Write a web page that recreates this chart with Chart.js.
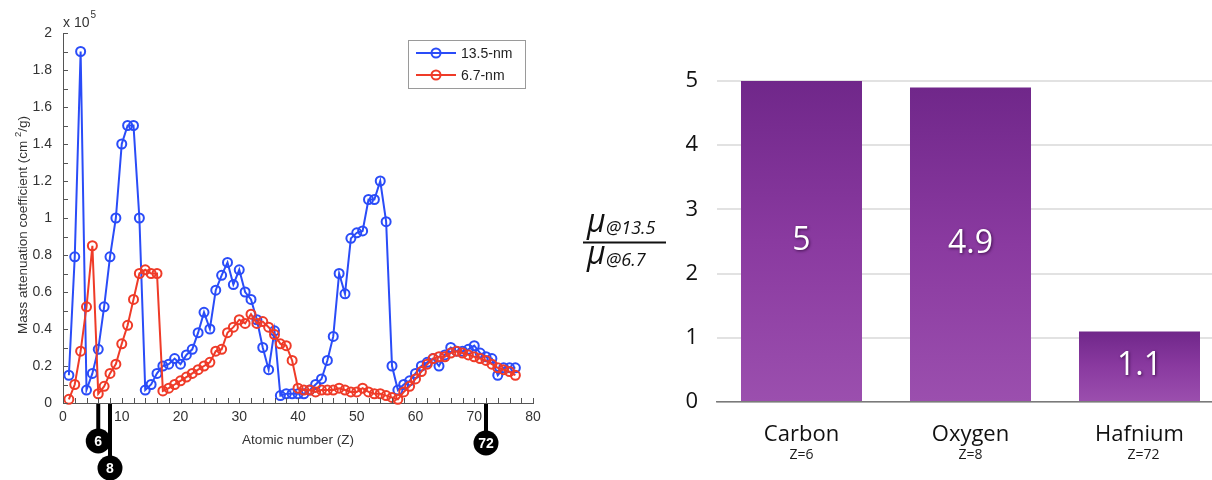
<!DOCTYPE html>
<html><head><meta charset="utf-8">
<script src="https://cdn.jsdelivr.net/npm/chart.js@4/dist/chart.umd.min.js"></script>
<style>
html,body{margin:0;padding:0;background:#fff;overflow:hidden;width:1212px;height:480px;}
#l{position:absolute;left:0;top:0;width:560px;height:480px;}
#r{position:absolute;left:560px;top:0;width:664px;height:480px;}
</style></head><body>
<div id="l"><canvas id="c1"></canvas></div>
<div id="r"><canvas id="c2"></canvas></div>
<script>
// ---------- data: left chart (values in units of 1e5 cm^2/g) ----------
const atomicNumbers = [1,2,3,4,5,6,7,8,9,10,11,12,13,14,15,16,17,18,19,20,21,22,23,24,25,26,27,28,29,30,31,32,33,34,35,36,37,38,39,40,41,42,43,44,45,46,47,48,49,50,51,52,53,54,55,56,57,58,59,60,61,62,63,64,65,66,67,68,69,70,71,72,73,74,75,76,77];
const mu135nm = [0.15,0.79,1.90,0.07,0.16,0.29,0.52,0.79,1.00,1.40,1.50,1.50,1.00,0.07,0.10,0.16,0.20,0.21,0.24,0.21,0.26,0.29,0.38,0.49,0.40,0.61,0.69,0.76,0.64,0.72,0.60,0.56,0.45,0.30,0.18,0.39,0.04,0.05,0.05,0.05,0.05,0.07,0.10,0.13,0.23,0.36,0.70,0.59,0.89,0.92,0.93,1.10,1.10,1.20,0.98,0.20,0.07,0.10,0.12,0.16,0.20,0.22,0.24,0.20,0.26,0.30,0.28,0.28,0.29,0.31,0.27,0.25,0.24,0.15,0.19,0.19,0.19];
const mu67nm = [0.02,0.10,0.28,0.52,0.85,0.05,0.09,0.16,0.21,0.32,0.42,0.56,0.70,0.72,0.70,0.70,0.065,0.08,0.10,0.12,0.14,0.16,0.18,0.20,0.22,0.28,0.29,0.38,0.41,0.45,0.43,0.48,0.43,0.44,0.41,0.37,0.32,0.31,0.23,0.08,0.07,0.07,0.06,0.07,0.07,0.07,0.08,0.07,0.06,0.06,0.08,0.06,0.05,0.05,0.04,0.03,0.02,0.06,0.09,0.13,0.17,0.21,0.24,0.25,0.25,0.27,0.28,0.27,0.26,0.25,0.24,0.23,0.21,0.19,0.18,0.17,0.15];
const seriesNames = ['13.5-nm','6.7-nm'];
const markedZ = [6, 8, 72];

// ---------- data: right chart ----------
const elements = ['Carbon','Oxygen','Hafnium'];
const elementZ = ['Z=6','Z=8','Z=72'];
const muRatio = [5, 4.9, 1.1];
const ratioLabels = ['5','4.9','1.1'];

const BLUE = '#2a4cf8';
const RED = '#ef3b28';
const SANS = '"Liberation Sans", Arial, Helvetica, sans-serif';
const MYR = '"Open Sans", "Noto Sans", sans-serif';

const leftDecor = {
  id:'leftDecor',
  afterDraw(chart){
    const {ctx, chartArea:a, scales:{x,y}} = chart;
    ctx.save();
    // inward tick marks
    ctx.strokeStyle = '#555'; ctx.lineWidth = 1;
    ctx.beginPath();
    for (let i = 0; i <= 20; i++) {
      const py = Math.round(y.getPixelForValue(i/10)) + 0.5;
      ctx.moveTo(a.left, py); ctx.lineTo(a.left + 5, py);
    }
    for (let i = 0; i <= 40; i++) {
      const px = Math.round(x.getPixelForValue(i*2)) + 0.5;
      ctx.moveTo(px, a.bottom); ctx.lineTo(px, a.bottom - 5);
    }
    ctx.stroke();
    // exponent
    ctx.fillStyle = '#333';
    ctx.font = '14px ' + SANS;
    ctx.textBaseline = 'alphabetic'; ctx.textAlign = 'left';
    ctx.fillText('x 10', a.left, 27);
    const w = ctx.measureText('x 10').width;
    ctx.font = '10px ' + SANS;
    ctx.fillText('5', a.left + w + 1, 18);
    // x title
    ctx.font = '13.5px ' + SANS;
    ctx.textAlign = 'center'; ctx.textBaseline = 'middle';
    ctx.fillText('Atomic number (Z)', (a.left + a.right)/2, 440);
    // y title (rotated)
    ctx.save();
    ctx.translate(22, 225);
    ctx.rotate(-Math.PI/2);
    const p1 = 'Mass attenuation coefficient (cm ', p2 = '2', p3 = '/g)';
    ctx.font = '13.5px ' + SANS;
    const w1 = ctx.measureText(p1).width, w3 = ctx.measureText(p3).width;
    ctx.font = '9.5px ' + SANS;
    const w2 = ctx.measureText(p2).width;
    let sx = -(w1 + w2 + w3)/2;
    ctx.textAlign = 'left'; ctx.textBaseline = 'alphabetic';
    ctx.font = '13.5px ' + SANS; ctx.fillText(p1, sx, 5); sx += w1;
    ctx.font = '9.5px ' + SANS; ctx.fillText(p2, sx, -1); sx += w2;
    ctx.font = '13.5px ' + SANS; ctx.fillText(p3, sx, 5);
    ctx.restore();
    // legend
    const lx = 408, ly = 40, lw = 117, lh = 48;
    ctx.fillStyle = '#fff'; ctx.fillRect(lx, ly, lw, lh);
    ctx.strokeStyle = '#9a9a9a'; ctx.lineWidth = 1;
    ctx.strokeRect(lx + 0.5, ly + 0.5, lw, lh);
    const cols = [BLUE, RED];
    seriesNames.forEach((nm, i) => {
      const yy = ly + 13 + i*22;
      ctx.strokeStyle = cols[i]; ctx.lineWidth = 2;
      ctx.beginPath(); ctx.moveTo(lx + 8, yy); ctx.lineTo(lx + 48, yy); ctx.stroke();
      ctx.beginPath(); ctx.arc(lx + 28, yy, 4.5, 0, Math.PI*2); ctx.stroke();
      ctx.fillStyle = '#222'; ctx.font = '14px ' + SANS;
      ctx.textAlign = 'left'; ctx.textBaseline = 'middle';
      ctx.fillText(nm, lx + 53, yy + 1);
    });
    // Z markers below axis
    const drops = [38, 65, 40];
    markedZ.forEach((z, i) => {
      const px = x.getPixelForValue(z);
      const cy = a.bottom + drops[i];
      ctx.strokeStyle = '#000'; ctx.lineWidth = 4;
      ctx.beginPath(); ctx.moveTo(px, a.bottom + 1); ctx.lineTo(px, cy); ctx.stroke();
      ctx.fillStyle = '#000';
      ctx.beginPath(); ctx.arc(px, cy, 12.5, 0, Math.PI*2); ctx.fill();
      ctx.fillStyle = '#fff'; ctx.font = 'bold 14px ' + SANS;
      ctx.textAlign = 'center'; ctx.textBaseline = 'middle';
      ctx.fillText(String(z), px, cy + 1);
    });
    ctx.restore();
  }
};

new Chart(document.getElementById('c1'), {
  type: 'line',
  data: {
    datasets: [
      { label: seriesNames[0], data: atomicNumbers.map((z,i)=>({x:z, y:mu135nm[i]})),
        borderColor: BLUE, borderWidth: 2, pointRadius: 4.5, pointBorderWidth: 2,
        pointBorderColor: BLUE, pointBackgroundColor: 'rgba(0,0,0,0)', fill: false, tension: 0, order: 1, clip: false },
      { label: seriesNames[1], data: atomicNumbers.map((z,i)=>({x:z, y:mu67nm[i]})),
        borderColor: RED, borderWidth: 2, pointRadius: 4.5, pointBorderWidth: 2,
        pointBorderColor: RED, pointBackgroundColor: 'rgba(0,0,0,0)', fill: false, tension: 0, order: 0, clip: false }
    ]
  },
  options: {
    responsive: true, maintainAspectRatio: false, animation: false,
    layout: { padding: { top: 33, right: 27, left: 0, bottom: 0 } },
    plugins: { legend: { display: false }, tooltip: { enabled: false } },
    scales: {
      x: { type: 'linear', min: 0, max: 80,
        ticks: { stepSize: 10, padding: 6, color: '#333', font: { family: SANS, size: 14 } },
        grid: { display: false, drawTicks: false }, border: { display: true, color: '#555', width: 1 },
        afterFit(s){ s.height = 77; } },
      y: { type: 'linear', min: 0, max: 2,
        ticks: { stepSize: 0.2, padding: 11, color: '#333', font: { family: SANS, size: 14 },
          callback: v => String(Math.round(v*10)/10) },
        grid: { display: false, drawTicks: false }, border: { display: true, color: '#555', width: 1 },
        afterFit(s){ s.width = 63; } }
    }
  },
  plugins: [leftDecor]
});

// ---------- right chart ----------
const rightDecor = {
  id: 'rightDecor',
  afterDraw(chart){
    const {ctx, chartArea:a, scales:{x,y}} = chart;
    ctx.save();
    // value labels in bars
    const meta = chart.getDatasetMeta(0);
    meta.data.forEach((bar, i) => {
      const cy = (bar.y + bar.base) / 2;
      ctx.save();
      ctx.shadowColor = 'rgba(40,0,50,0.75)'; ctx.shadowBlur = 3; ctx.shadowOffsetX = 1; ctx.shadowOffsetY = 1;
      ctx.fillStyle = '#fff'; ctx.font = '32px ' + MYR;
      ctx.textAlign = 'center'; ctx.textBaseline = 'middle';
      ctx.fillText(ratioLabels[i], bar.x, cy);
      ctx.restore();
      // Z sub labels
      ctx.fillStyle = '#1a1a1a'; ctx.font = '14px ' + MYR;
      ctx.textAlign = 'center'; ctx.textBaseline = 'middle';
      ctx.fillText(elementZ[i], bar.x + (i === 2 ? 4 : 0), 455);
    });
    // fraction y title (canvas-relative; canvas starts at page x=560)
    const ox = -560;
    ctx.fillStyle = '#111';
    ctx.textAlign = 'left'; ctx.textBaseline = 'alphabetic';
    ctx.font = 'italic 32px ' + MYR;
    ctx.fillText('μ', 587 + ox, 232);
    ctx.font = 'italic 18px ' + MYR;
    ctx.fillText('@13.5', 606 + ox, 234);
    ctx.fillRect(583 + ox, 241.5, 83, 2);
    ctx.font = 'italic 32px ' + MYR;
    ctx.fillText('μ', 587 + ox, 264);
    ctx.font = 'italic 18px ' + MYR;
    ctx.fillText('@6.7', 606 + ox, 266);
    ctx.restore();
  }
};

new Chart(document.getElementById('c2'), {
  type: 'bar',
  data: {
    labels: elements,
    datasets: [{
      data: muRatio,
      backgroundColor: (c) => {
        const ch = c.chart; const a = ch.chartArea;
        if (!a || c.raw === undefined) return '#86389c';
        const top = ch.scales.y.getPixelForValue(c.raw);
        const g = ch.ctx.createLinearGradient(0, top, 0, a.bottom);
        g.addColorStop(0, '#70278a');
        g.addColorStop(0.5, '#8a3aa0');
        g.addColorStop(1, '#9b4fae');
        return g;
      },
      borderWidth: 0,
      barPercentage: 0.716, categoryPercentage: 1
    }]
  },
  options: {
    responsive: true, maintainAspectRatio: false, animation: false,
    layout: { padding: { top: 81, right: 0, left: 0, bottom: 0 } },
    plugins: { legend: { display: false }, tooltip: { enabled: false } },
    scales: {
      x: { ticks: { padding: 12, color: '#111', font: { family: MYR, size: 22 } },
        grid: { display: false }, border: { display: true, color: '#7a7a7a', width: 1.5 },
        afterFit(s){ s.height = 78; } },
      y: { min: 0, max: 5,
        ticks: { stepSize: 1, padding: 19, color: '#111', font: { family: MYR, size: 22 } },
        grid: { display: true, color: '#e2e2e2', lineWidth: 2, drawTicks: false },
        border: { display: false },
        afterFit(s){ s.width = 157; } }
    }
  },
  plugins: [rightDecor]
});
</script>
</body></html>
